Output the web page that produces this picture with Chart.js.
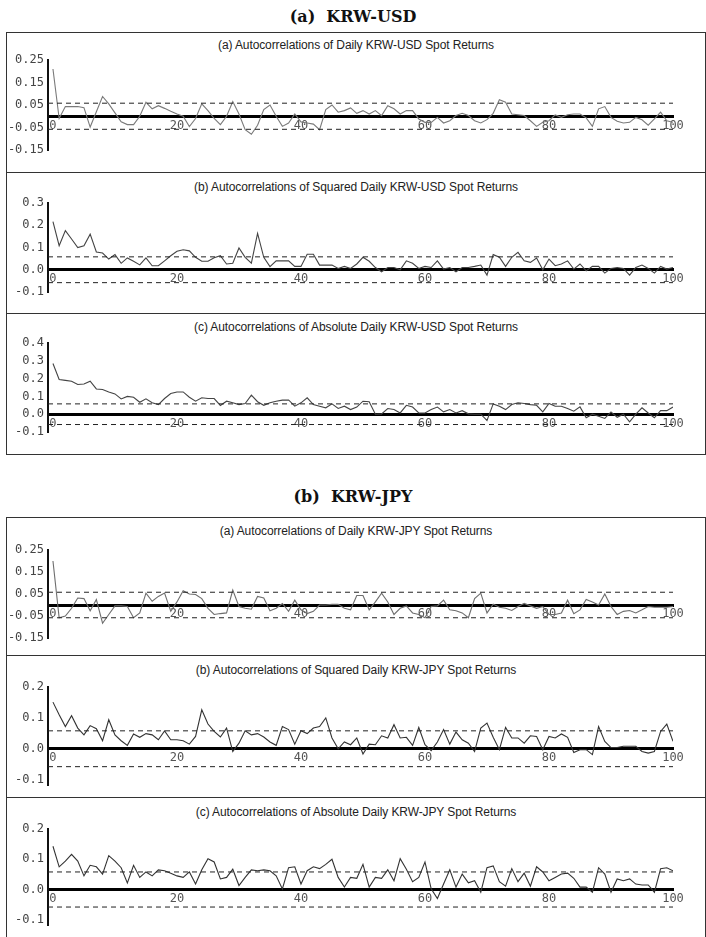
<!DOCTYPE html>
<html>
<head>
<meta charset="utf-8">
<script src="https://cdn.jsdelivr.net/npm/chart.js@4.4.0/dist/chart.umd.min.js"></script>
<style>
  body { margin: 0; background: #fff; width: 706px; height: 937px; position: relative; overflow: hidden; font-family: 'Liberation Sans', Arial, sans-serif; }
  .title { position: absolute; left: 0; width: 706px; text-align: center; font: bold 16px 'DejaVu Serif', serif; color: #111; line-height: 20px; }
  .box { position: absolute; left: 6px; width: 698px; border: 1px solid #333; }
  .sep { position: absolute; left: 6px; width: 700px; height: 0; border-top: 1px solid #333; }
  .subtitle { position: absolute; left: 6px; width: 700px; text-align: center; font-size: 12px; line-height: 14px; color: #222; letter-spacing: -0.1px; }
  .panel { position: absolute; left: 6px; }
</style>
</head>
<body>
<div class="title" style="top:7px">(a)&nbsp; KRW-USD</div>
<div class="box" style="top:32px;height:421px"></div>
<div class="sep" style="top:172px"></div>
<div class="sep" style="top:313px"></div>

<div class="title" style="top:487px">(b)&nbsp; KRW-JPY</div>
<div class="box" style="top:517px;height:440px"></div>
<div class="sep" style="top:655px"></div>
<div class="sep" style="top:797px"></div>

<div id="charts"></div>

<script>
// lags 0..100
const LAGS = Array.from({ length: 101 }, (_, i) => i);
const X_TICKS = [0, 20, 40, 60, 80, 100];
const BAND = 0.058;

// KRW-USD autocorrelations
const USD_RETURNS = [
  0.21, -0.01, 0.043, 0.043, 0.043, 0.038, -0.048, 0.02, 0.088, 0.055,
  0.015, -0.025, -0.037, -0.037, 0.0, 0.062, 0.033, 0.047, 0.035, 0.022,
  0.01, 0.0, -0.046, -0.01, 0.055, 0.025, -0.01, -0.037, 0.0, 0.065,
  0.01, -0.06, -0.08, -0.04, 0.03, 0.05, 0.0, -0.045, -0.03, 0.01,
  -0.025, -0.03, -0.035, -0.06, 0.03, 0.05, 0.018, 0.025, 0.037, 0.013,
  0.025, 0.01, 0.025, 0.003, 0.047, 0.033, 0.01, 0.025, 0.025, -0.012,
  -0.027, -0.027, -0.005, -0.03, -0.02, 0.003, 0.013, 0.003, -0.02, -0.03,
  -0.015, 0.013, 0.073, 0.062, 0.01, 0.007, 0.003, -0.02, -0.045, -0.027,
  -0.02, 0.006, -0.005, 0.007, 0.01, 0.01, -0.007, -0.045, 0.033, 0.043,
  -0.005, -0.022, -0.03, -0.027, -0.005, -0.016, -0.04, -0.012, 0.018, -0.02,
  -0.027
];
const USD_SQUARED = [
  0.216, 0.108, 0.176, 0.138, 0.10, 0.108, 0.16, 0.08, 0.075, 0.048,
  0.068, 0.029, 0.053, 0.038, 0.022, 0.053, 0.018, 0.018, 0.04, 0.063,
  0.083, 0.09, 0.085, 0.056, 0.038, 0.038, 0.054, 0.063, 0.026, 0.029,
  0.098, 0.056, 0.03, 0.163, 0.056, 0.014, 0.04, 0.04, 0.04, 0.015,
  0.015, 0.07, 0.07, 0.021, 0.021, 0.021, 0.006, 0.015, 0.006, 0.026,
  0.056, 0.038, 0.01, -0.009, 0.01, 0.01, 0.0, 0.04, 0.029, 0.006,
  0.015, 0.01, 0.04, 0.003, 0.01, -0.009, 0.01, 0.01, 0.015, 0.021,
  -0.024, 0.068, 0.056, 0.015, 0.056, 0.078, 0.04, 0.033, 0.053, 0.0,
  0.048, 0.018, 0.026, 0.04, 0.003, 0.026, -0.005, 0.015, 0.015, -0.015,
  0.006, 0.01, 0.006, -0.024, 0.01, 0.021, 0.006, -0.015, 0.015, 0.003,
  0.01
];
const USD_ABSOLUTE = [
  0.285, 0.195, 0.19, 0.185, 0.167, 0.17, 0.185, 0.142, 0.139, 0.125,
  0.114, 0.086, 0.10, 0.095, 0.067, 0.086, 0.064, 0.054, 0.088, 0.116,
  0.125, 0.125, 0.095, 0.073, 0.092, 0.088, 0.088, 0.049, 0.073, 0.064,
  0.054, 0.06, 0.107, 0.07, 0.05, 0.064, 0.073, 0.079, 0.08, 0.045,
  0.064, 0.092, 0.054, 0.045, 0.036, 0.058, 0.032, 0.045, 0.026, 0.04,
  0.073, 0.07, 0.0, 0.002, 0.032, 0.026, 0.007, 0.05, 0.04, 0.007,
  0.007, 0.026, 0.04, 0.013, 0.026, 0.007, 0.02, 0.002, 0.0, 0.0,
  -0.035, 0.058, 0.045, 0.026, 0.054, 0.064, 0.06, 0.054, 0.05, 0.013,
  0.06, 0.045, 0.045, 0.032, 0.017, 0.041, -0.02, 0.0, -0.011, -0.024,
  0.013, -0.017, 0.0, -0.043, 0.0, 0.036, 0.007, -0.02, 0.02, 0.02,
  0.04
];

// KRW-JPY autocorrelations
const JPY_RETURNS = [
  0.2, -0.058, -0.05, -0.015, 0.032, 0.029, -0.026, 0.025, -0.083, -0.043,
  -0.004, -0.004, -0.007, -0.058, -0.036, 0.054, 0.017, 0.039, 0.054, -0.029,
  0.014, 0.065, 0.05, 0.048, 0.029, -0.015, -0.043, -0.039, -0.036, 0.068,
  -0.007, -0.015, -0.019, 0.039, 0.032, -0.026, -0.015, 0.007, -0.029, 0.022,
  -0.022, -0.039, -0.029, 0.0, 0.0, 0.003, 0.003, -0.015, -0.022, 0.043,
  0.043, -0.022, 0.014, 0.054, 0.014, -0.043, -0.015, -0.004, -0.036, -0.043,
  -0.058, -0.007, -0.004, 0.022, -0.022, -0.026, -0.036, -0.058, 0.029, 0.054,
  -0.036, 0.004, -0.01, -0.015, -0.025, -0.007, 0.007, -0.004, -0.015, -0.007,
  -0.043, -0.043, -0.036, 0.022, -0.04, -0.022, 0.025, 0.014, 0.0, 0.05,
  -0.007, -0.043, -0.029, -0.025, -0.036, -0.022, -0.007, -0.01, -0.01, -0.01,
  -0.007
];
const JPY_SQUARED = [
  0.151, 0.11, 0.072, 0.107, 0.067, 0.045, 0.075, 0.065, 0.026, 0.094,
  0.045, 0.026, 0.011, 0.048, 0.037, 0.049, 0.045, 0.029, 0.058, 0.029,
  0.029, 0.026, 0.015, 0.04, 0.126, 0.08, 0.056, 0.038, 0.067, -0.009,
  0.018, 0.058, 0.045, 0.049, 0.038, 0.022, 0.011, 0.072, 0.062, 0.015,
  0.058, 0.049, 0.067, 0.072, 0.1, 0.035, 0.0, 0.022, 0.013, 0.035,
  -0.017, 0.015, 0.013, 0.042, 0.035, 0.078, 0.035, 0.037, 0.011, 0.069,
  0.013, -0.006, 0.022, 0.062, 0.015, 0.054, 0.029, 0.018, -0.009, 0.067,
  0.083, 0.037, -0.003, 0.069, 0.035, 0.035, 0.018, 0.042, 0.04, -0.003,
  0.04, 0.035, 0.048, 0.037, -0.012, -0.003, -0.003, -0.019, 0.072, 0.024,
  0.004, 0.004, 0.008, 0.008, 0.008, -0.009, -0.014, -0.009, 0.056, 0.08,
  0.024
];
const JPY_ABSOLUTE = [
  0.143, 0.075, 0.094, 0.116, 0.094, 0.045, 0.08, 0.075, 0.051, 0.112,
  0.094, 0.072, 0.022, 0.08, 0.04, 0.058, 0.045, 0.065, 0.062, 0.054,
  0.045, 0.04, 0.058, 0.018, 0.065, 0.102, 0.091, 0.035, 0.04, 0.067,
  0.013, 0.04, 0.065, 0.062, 0.065, 0.062, 0.045, 0.002, 0.072, 0.075,
  0.018, 0.062, 0.075, 0.069, 0.083, 0.1, 0.04, 0.008, 0.04, 0.037,
  0.083, 0.008, 0.04, 0.037, 0.065, 0.029, 0.102, 0.067, 0.026, 0.04,
  0.091, 0.002, -0.03, 0.018, 0.065, 0.008, 0.051, 0.022, 0.029, -0.009,
  0.072, 0.078, 0.026, 0.011, 0.069, 0.026, 0.054, 0.011, 0.075, 0.058,
  0.029, 0.04, 0.051, 0.054, 0.037, 0.008, 0.008, -0.009, 0.072, 0.051,
  -0.009, 0.035, 0.029, 0.035, 0.018, 0.015, 0.015, -0.009, 0.069, 0.072,
  0.062
];

// y tick labels
const TICKS_RETURNS = [-0.15, -0.05, 0.05, 0.15, 0.25];
const TICKS_USD_SQUARED = [-0.1, 0.0, 0.1, 0.2, 0.3];
const TICKS_USD_ABSOLUTE = [-0.1, 0.0, 0.1, 0.2, 0.3, 0.4];
const TICKS_JPY = [-0.1, 0.0, 0.1, 0.2];

const X_MIN = -0.8;
const TICK_FONT = { family: "'DejaVu Sans Mono', monospace", size: 12 };

// panel layout (page pixels)
const PANELS = [
  { title: '(a) Autocorrelations of Daily KRW-USD Spot Returns', data: USD_RETURNS, ticks: TICKS_RETURNS, min: -0.15, max: 0.25, dec: 2,
    top: 33, bottom: 172, axisTop: 60, axisBottom: 150, subY: 38, color: '#7a7a7a' },
  { title: '(b) Autocorrelations of Squared Daily KRW-USD Spot Returns', data: USD_SQUARED, ticks: TICKS_USD_SQUARED, min: -0.1, max: 0.3, dec: 1,
    top: 173, bottom: 313, axisTop: 203, axisBottom: 292, subY: 180, color: '#444' },
  { title: '(c) Autocorrelations of Absolute Daily KRW-USD Spot Returns', data: USD_ABSOLUTE, ticks: TICKS_USD_ABSOLUTE, min: -0.1, max: 0.4, dec: 1,
    top: 314, bottom: 454, axisTop: 343, axisBottom: 432, subY: 320, color: '#444' },
  { title: '(a) Autocorrelations of Daily KRW-JPY Spot Returns', data: JPY_RETURNS, ticks: TICKS_RETURNS, min: -0.15, max: 0.25, dec: 2,
    top: 518, bottom: 655, axisTop: 550, axisBottom: 638, subY: 524, color: '#6e6e6e' },
  { title: '(b) Autocorrelations of Squared Daily KRW-JPY Spot Returns', data: JPY_SQUARED, ticks: TICKS_JPY, min: -0.12, max: 0.2, dec: 1,
    top: 656, bottom: 797, axisTop: 687, axisBottom: 787, subY: 663, color: '#333' },
  { title: '(c) Autocorrelations of Absolute Daily KRW-JPY Spot Returns', data: JPY_ABSOLUTE, ticks: TICKS_JPY, min: -0.12, max: 0.2, dec: 1,
    top: 798, bottom: 937, axisTop: 829, axisBottom: 929, subY: 805, color: '#333' }
];

const CANVAS_WIDTH = 700;
const Y_AXIS_WIDTH = 42;   // axis line at page x 48
const PLOT_RIGHT = 667;    // lag 100 at page x 673

function bandLine(value) {
  return {
    data: [{ x: X_MIN, y: value }, { x: 100, y: value }],
    borderColor: '#222',
    borderWidth: 1,
    borderDash: [5, 4],
    pointRadius: 0
  };
}

function renderPanel(panel, idx) {
  const root = document.getElementById('charts');

  const sub = document.createElement('div');
  sub.className = 'subtitle';
  sub.style.top = panel.subY + 'px';
  sub.textContent = panel.title;
  root.appendChild(sub);

  const height = panel.bottom - panel.top;
  const wrap = document.createElement('div');
  wrap.className = 'panel';
  wrap.style.top = panel.top + 'px';
  const canvas = document.createElement('canvas');
  canvas.width = CANVAS_WIDTH;
  canvas.height = height;
  canvas.id = 'panel' + idx;
  wrap.appendChild(canvas);
  root.appendChild(wrap);

  new Chart(canvas, {
    type: 'line',
    data: {
      datasets: [
        bandLine(BAND),
        bandLine(-BAND),
        {
          data: panel.data.map((v, i) => ({ x: LAGS[i], y: v })),
          borderColor: panel.color,
          borderWidth: 1.1,
          pointRadius: 0,
          tension: 0
        }
      ]
    },
    options: {
      responsive: false,
      animation: false,
      events: [],
      layout: {
        padding: {
          top: panel.axisTop - panel.top,
          bottom: panel.bottom - panel.axisBottom,
          left: 0,
          right: CANVAS_WIDTH - PLOT_RIGHT
        }
      },
      scales: {
        x: {
          type: 'linear',
          min: X_MIN,
          max: 100,
          position: { y: 0 },
          afterBuildTicks: s => { s.ticks = X_TICKS.map(v => ({ value: v })); },
          grid: { display: false, drawTicks: false },
          border: { display: true, width: 3, color: '#000' },
          ticks: { font: TICK_FONT, color: '#555', padding: 2, maxRotation: 0, autoSkip: false, callback: v => String(v) }
        },
        y: {
          min: panel.min,
          max: panel.max,
          afterBuildTicks: s => { s.ticks = panel.ticks.map(v => ({ value: v })); },
          afterFit: s => { s.width = Y_AXIS_WIDTH; },
          grid: { display: false, drawTicks: false },
          border: { display: true, width: 2, color: '#111' },
          ticks: { font: TICK_FONT, color: '#444', padding: 4, callback: v => Number(v).toFixed(panel.dec) }
        }
      },
      plugins: {
        legend: { display: false },
        tooltip: { enabled: false }
      }
    }
  });
}

PANELS.forEach(renderPanel);
</script>
</body>
</html>
